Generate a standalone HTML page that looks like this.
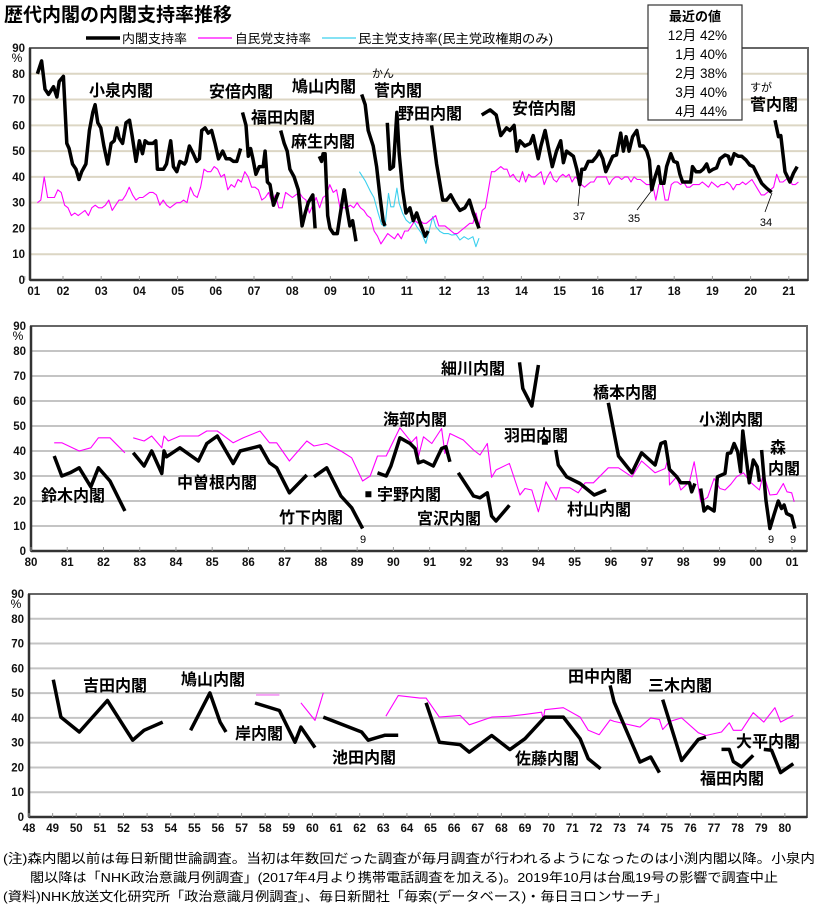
<!DOCTYPE html>
<html><head><meta charset="utf-8"><style>
html,body{margin:0;padding:0;background:#fff;}
svg{display:block;font-family:"Liberation Sans","Noto Sans CJK JP",sans-serif;}
.lbl{font-size:16px;font-weight:bold;fill:#000;}
.tk{font-size:11.5px;font-weight:bold;fill:#111;}
.leg{font-size:12.5px;fill:#000;}
.note{font-size:13px;fill:#000;}
</style></head><body>
<svg id="chart" width="829" height="914" viewBox="0 0 829 914">
<text x="4" y="21" style="font-size:19px;font-weight:bold">歴代内閣の内閣支持率推移</text>
<g>
<line x1="86" y1="38" x2="120" y2="38" stroke="#000" stroke-width="3.5"/>
<text class="leg" x="122" y="43" textLength="65" lengthAdjust="spacingAndGlyphs">内閣支持率</text>
<line x1="198" y1="38" x2="232" y2="38" stroke="#f0f" stroke-width="1.2"/>
<text class="leg" x="235" y="43" textLength="76" lengthAdjust="spacingAndGlyphs">自民党支持率</text>
<line x1="322" y1="38" x2="356" y2="38" stroke="#3cd0ee" stroke-width="1.2"/>
<text class="leg" x="358" y="43" textLength="195" lengthAdjust="spacingAndGlyphs">民主党支持率(民主党政権期のみ)</text>
</g>
<g id="p1"></g>
<g id="p2"></g>
<g id="p3"></g>
<g>
<rect x="648" y="5" width="94" height="115" fill="#fff" stroke="#333" stroke-width="1.2"/>
<text x="695" y="21" text-anchor="middle" style="font-size:13px;font-weight:bold">最近の値</text>
<text x="727" y="40" text-anchor="end" style="font-size:13.5px">12月 42%</text>
<text x="727" y="59" text-anchor="end" style="font-size:13.5px">1月 40%</text>
<text x="727" y="78" text-anchor="end" style="font-size:13.5px">2月 38%</text>
<text x="727" y="97" text-anchor="end" style="font-size:13.5px">3月 40%</text>
<text x="727" y="116" text-anchor="end" style="font-size:13.5px">4月 44%</text>
</g>
<g>
<text class="note" x="3" y="863" textLength="812" lengthAdjust="spacingAndGlyphs">(注)森内閣以前は毎日新聞世論調査。当初は年数回だった調査が毎月調査が行われるようになったのは小渕内閣以降。小泉内</text>
<text class="note" x="30" y="882" textLength="748" lengthAdjust="spacingAndGlyphs">閣以降は「NHK政治意識月例調査」(2017年4月より携帯電話調査を加える)。2019年10月は台風19号の影響で調査中止</text>
<text class="note" x="3" y="901" textLength="665" lengthAdjust="spacingAndGlyphs">(資料)NHK放送文化研究所「政治意識月例調査」、毎日新聞社「毎索(データベース)・毎日ヨロンサーチ」</text>
</g>
</svg>
<script>
// ---------- Panel 1 data (2001-2021) ----------
const koizumiT=[2001.33,2001.44,2001.53,2001.62,2001.75,2001.84,2001.90,2002.01,2002.10,2002.16,2002.25,2002.34,2002.42,2002.49,2002.60,2002.69,2002.78,2002.84,2002.91,2002.99,2003.07,2003.17,2003.26,2003.34,2003.41,2003.47,2003.56,2003.65,2003.74,2003.81,2003.91,2004.00,2004.08,2004.15,2004.23,2004.35,2004.43,2004.47,2004.63,2004.71,2004.82,2004.89,2004.98,2005.06,2005.18,2005.22,2005.31,2005.41,2005.50,2005.57,2005.63,2005.72,2005.80,2005.89,2005.98,2006.07,2006.18,2006.27,2006.37,2006.46,2006.55,2006.65];
const koizumiV=[80,85,74,72,75,71,77,79,53,51,45,43,39,42,45,58,65,68,61,59,52,45,53,54,59,55,53,61,62,56,46,54,49,54,53,53,54,43,43,45,54,44,42,46,45,46,52,49,46,47,58,59,57,58,53,47,50,47,47,46,46,51];
const abe1T=[2006.70,2006.79,2006.85,2006.91,2006.97,2007.05,2007.14,2007.24,2007.29,2007.35,2007.42,2007.51,2007.64];
const abe1V=[65,60,48,51,47,41,44,44,50,38,37,29,34];
const fukudaT=[2007.70,2007.79,2007.87,2007.94,2008.05,2008.16,2008.26,2008.34,2008.42,2008.54,2008.60];
const fukudaV=[58,53,50,43,40,35,21,26,30,33,20];
const asoT=[2008.71,2008.77,2008.81,2008.86,2008.93,2008.99,2009.08,2009.18,2009.25,2009.36,2009.43,2009.51,2009.58,2009.67];
const asoV=[48,46,49,49,25,20,18,18,25,35,28,21,23,15];
const hatoyamaT=[2009.82,2009.91,2009.99,2010.12,2010.21,2010.30,2010.38,2010.43];
const hatoyamaV=[72,68,58,52,44,32,23,21];
const kanT=[2010.49,2010.56,2010.65,2010.74,2010.80,2010.89,2010.98,2011.08,2011.17,2011.26,2011.35,2011.48,2011.56];
const kanV=[61,43,44,65,49,35,26,28,23,26,22,17,19];
const nodaT=[2011.65,2011.78,2011.94,2012.04,2012.15,2012.26,2012.39,2012.52,2012.64,2012.74,2012.89];
const nodaV=[60,45,31,31,33,30,27,28,31,26,20];
const abe2T=[2012.96,2013.18,2013.34,2013.46,2013.61,2013.70,2013.81,2013.88,2013.96,2014.09,2014.23,2014.31,2014.44,2014.51,2014.62,2014.70,2014.81,2014.92,2015.03,2015.10,2015.18,2015.27,2015.36,2015.45,2015.53,2015.58,2015.66,2015.75,2015.86,2015.97,2016.04,2016.13,2016.21,2016.30,2016.39,2016.49,2016.60,2016.67,2016.74,2016.82,2016.91,2017.02,2017.10,2017.19,2017.28,2017.35,2017.41,2017.50,2017.59,2017.65,2017.73,2017.80,2017.91,2017.99,2018.08,2018.15,2018.22,2018.33,2018.43,2018.48,2018.57,2018.68,2018.76,2018.85,2018.92,2019.02,2019.11,2019.20,2019.33,2019.42,2019.48,2019.57,2019.68,2019.77,2019.88,2019.98,2020.07,2020.17,2020.29,2020.42,2020.55];
const abe2V=[64,66,64,56,59,58,60,50,54,52,53,56,47,52,58,52,44,50,54,45.5,50,49,48,43,37,43,43,46,46,48,50,47,42,45,48,48.5,57,50,55.6,50,55.6,58,52,52,50,46.5,35,40,44,37.5,37.5,44,49,46,45.5,41,38,38,38,44,42,42,43,45,42,43,43.5,47,48.5,48,45,49,48,48,46.5,44.6,44,41,37.5,35.6,34];
const sugaT=[2020.64,2020.73,2020.79,2020.90,2021.03,2021.12,2021.22];
const sugaV=[62,55.6,56,42,38,41.4,44];
const ldpAStart=2001.33, ldpAEnd=2011.30;
const ldpAV=[30,31,40,32,32,32,35,34,29,28,25,26,25,26,27,25,28,29,28,28,29,31,27,29,31,31,33,36,33,31,32,32,33,34,34,33,29,31,29,28,29,30,30,31,30,36,33,32,36,43,42,42,44,43,40,41,35,37,36,39,38,42,40,36,36,35,31,32,34,30,33,28,28,34,33,32,33,34,32,31,26,29,32,28,32,33,37,34,35,28,28,28,29,28,30,28,27,25,24,19,17,14,16,18,17,16,18,16,19,19,21,23,22];
const ldpBStart=2011.35, ldpBEnd=2021.25;
const ldpBV=[23,22,22,23,24,25,21,21,21,20,19,18,18,19,20,21,22,22,26,21,27,28,35,42,42,43,44,43,43,40,41,39,38,42,38,41,40,40,41,42,37,40,42,39,38,40,41,40,41,38,40,39,37,36,37,38,38,40,40,40,40,37,39,40,40,39,40,40,38,40,39,39,38,37,37,37,31,37,38,31,31,37,38,38,37,38,36,36,37,37,37,38,37,36,38,37,36,37,37,38,37,35,37,37,38,37,38,39,37,35,33,33,34,35,36,41,38,38,39,40,37,37,38];
const dpjT=[2009.76,2009.91,2010.04,2010.14,2010.25,2010.34,2010.43,2010.52,2010.58,2010.66,2010.74,2010.80,2010.89,2010.98,2011.08,2011.17,2011.26,2011.39,2011.50,2011.59,2011.68,2011.76,2011.87,2011.97,2012.09,2012.18,2012.29,2012.39,2012.50,2012.61,2012.73,2012.81,2012.89];
const dpjV=[42,38.5,34.6,32,25.9,21.6,20.7,33.6,28.4,28.4,35.6,29.7,25.9,23.3,22,23.3,20.7,18,14.2,19.4,24.6,20.7,18.8,18,18,17.4,17.7,15.5,16.8,15.8,16.8,12.9,16.2];
const p1TickYears=[2002,2003,2004,2005,2006,2007,2008,2009,2010,2011,2012,2013,2014,2015,2016,2017,2018,2019,2020,2021];
const p1TickLabels=["02","03","04","05","06","07","08","09","10","11","12","13","14","15","16","17","18","19","20","21"];
const yTicks=[0,10,20,30,40,50,60,70,80,90];

// ---------- Panel 2 data (1980-2001) ----------
const suzukiT=[1980.64,1980.85,1981.08,1981.33,1981.65,1981.86,1982.18,1982.59];
const suzukiV=[38,30,31.3,33.3,25.7,33.3,28,16];
const nakasoneT=[1982.82,1983.12,1983.33,1983.61,1983.67,1983.74,1984.11,1984.62,1984.85,1985.14,1985.58,1985.77,1986.32,1986.58,1986.78,1987.13,1987.61];
const nakasoneV=[39.3,34,40,31,40,37.7,41.3,36,43,46,35,40,42,35.3,33.3,23.3,30.4];
const takeshitaT=[1987.81,1988.16,1988.55,1988.85,1989.15];
const takeshitaV=[29.7,33.3,22,17.3,9];
const unoT=[1989.31]; const unoV=[22.7];
const kaifuT=[1989.56,1989.80,1989.93,1990.18,1990.46,1990.60,1990.69,1990.83,1991.10,1991.33,1991.45,1991.56];
const kaifuV=[31.3,30,34,45.3,43,41,35.3,36,34,41,41.7,35.7];
const miyazawaT=[1991.79,1992.21,1992.39,1992.59,1992.71,1992.83,1993.20];
const miyazawaV=[31.3,22,21.3,23.3,14,12,18.3];
const hosokawaT=[1993.48,1993.57,1993.82,1994.00];
const hosokawaV=[75.5,65,58,74.4];
const hataT=[1994.18]; const hataV=[43.7];
const murayamaT=[1994.48,1994.55,1994.78,1995.15,1995.54,1995.87];
const murayamaV=[40.4,34.4,29.7,27,22.4,24.4];
const hashimotoT=[1995.93,1996.21,1996.58,1996.85,1997.22,1997.38,1997.50,1997.62,1997.82,1997.93,1998.17,1998.23,1998.32];
const hashimotoV=[59.3,38,31.3,39.3,34.4,43,43.7,32.7,29.7,27.3,27.3,23.7,27];
const obuchiT=[1998.48,1998.57,1998.67,1998.85,1998.94,1999.15,1999.22,1999.31,1999.40,1999.50,1999.58,1999.64,1999.73,1999.82,1999.93,2000.04,2000.10];
const obuchiV=[25,16,17.7,16,29.7,31,39,39.3,43,39.7,31.7,48,37.7,27.3,36.4,33.7,27.7];
const moriT=[2000.16,2000.28,2000.39,2000.50,2000.62,2000.71,2000.78,2000.85,2000.99,2001.08];
const moriV=[40.4,20.4,9,14.4,20,17,18.4,15,14,9];
const ldp2AT=[1980.64,1980.85,1981.33,1981.65,1981.86,1982.18,1982.59];
const ldp2AV=[43.3,43.3,40,41.3,45.3,45.3,39.3];
const ldp2BT=[1982.82,1983.12,1983.33,1983.61,1983.67,1983.79,1984.11,1984.62,1984.85,1985.14,1985.58,1985.86,1986.32,1986.58,1986.78,1987.13,1987.61,1987.81,1988.16,1988.55,1988.85,1989.15,1989.36,1989.56,1989.80,1990.18,1990.50,1990.64,1990.69,1990.83,1991.06,1991.33,1991.42,1991.56,1991.93,1992.21,1992.39,1992.59,1992.71,1992.83,1993.20,1993.49,1993.63,1993.82,1994.00,1994.21,1994.49,1994.60,1994.87,1995.10,1995.29,1995.52,1995.93,1996.21,1996.58,1996.85,1997.22,1997.50,1997.59,1997.62,1997.82,1997.93,1998.17,1998.30,1998.48,1998.67,1998.85,1999.01,1999.15,1999.31,1999.47,1999.66,1999.84,2000.10,2000.21,2000.39,2000.58,2000.76,2000.86,2000.99,2001.06];
const ldp2BV=[45.3,44,46,41.3,46,44,46,46,48,48,43.3,45.3,48,43.3,43.3,36,44,42,43,40,37.3,28,30,38,38,49.3,43.5,45.7,37.7,45.7,43,49,39,47,44.4,40.4,38.4,43,29.5,32.4,35,22.4,25,24.4,15.7,27.7,20.4,25.3,25.3,23.3,27.3,27.3,33.3,33.3,29.7,36,31.3,33,37.7,26.4,29.7,24.4,27.7,35.7,19.7,21.5,29,25,24.4,26.7,29.7,31.3,27.7,24.4,31,22.4,22.7,27,23.7,23.3,19.7];
const p2TickLabels=["80","81","82","83","84","85","86","87","88","89","90","91","92","93","94","95","96","97","98","99","00","01"];

// ---------- Panel 3 data (1948-1980) ----------
const yoshidaT=[1949.03,1949.35,1950.13,1951.32,1952.39,1952.87,1953.66];
const yoshidaV=[55.4,40.3,34.3,47,31,35,38.3];
const hatoyama2T=[1954.84,1955.66,1956.09,1956.34];
const hatoyama2V=[35,50.1,38.3,34.3];
const kishiT=[1957.57,1958.60,1959.26,1959.51,1960.11];
const kishiV=[46,43,30.2,36.3,28];
const ikedaT=[1960.46,1962.08,1962.36,1963.07,1963.63];
const ikedaV=[40.3,34.3,31,33,33];
const satoT=[1964.81,1965.37,1966.25,1966.64,1967.59,1968.36,1969.00,1969.77,1969.84,1970.62,1971.33,1971.68,1972.20];
const satoV=[46.1,30.2,29.2,26.2,32.9,27.2,31.6,39.6,40.3,40.3,31.6,23.5,19.5];
const tanakaT=[1972.60,1972.77,1973.87,1974.32,1974.69];
const tanakaV=[53.1,46.4,22.2,24.2,17.9];
const mikiT=[1974.83,1975.63,1976.34,1976.66];
const mikiV=[47.4,22.8,31.3,32.3];
const fukuda2T=[1977.32,1977.65,1977.82,1978.17,1978.66];
const fukuda2V=[27.3,27.3,22.4,20.2,24.9];
const ohiraT=[1979.11,1979.44,1979.82,1980.36];
const ohiraV=[27.3,26.9,17.9,21.5];
const ldp3AT=[1957.61,1958.60]; const ldp3AV=[49.3,49.3];
const ldp3BT=[1959.51,1960.11,1960.46]; const ldp3BV=[46.1,39,50.1];
const ldp3CT=[1963.11,1963.63,1964.55,1964.81,1965.37,1966.25,1966.64,1967.59,1968.36,1969.00,1969.70,1969.77,1969.84,1970.62,1971.33,1971.68,1972.14,1972.60,1972.77,1973.87,1974.32,1974.69,1974.83,1975.14,1975.63,1976.34,1976.66,1977.32,1977.65,1977.82,1978.17,1978.66,1979.11,1979.58,1979.82,1980.36];
const ldp3CV=[40.7,49,48,48,40.3,41,37.2,40.3,40.7,41.4,42.3,39.4,43.3,44.1,40.3,35,33.2,39.2,38.6,36.3,40,39.4,35.3,38.6,40,34,32.9,34.3,38,35,35,42.1,38.3,44.1,38.3,41];
const p3TickLabels=["48","49","50","51","52","53","54","55","56","57","58","59","60","61","62","63","64","65","66","67","68","69","70","71","72","73","74","75","76","77","78","79","80"];

const NS="http://www.w3.org/2000/svg";
function mk(parent,tag,attrs){const e=document.createElementNS(NS,tag);for(const k in attrs)e.setAttribute(k,attrs[k]);parent.appendChild(e);return e;}

function makePanel(g,P){
  const x=t=>P.x0+(t-P.t0)*P.pxYear;
  const y=v=>P.yBot-v*(P.yBot-P.yTop)/90;
  yTicks.forEach(v=>{
    if(v>0&&v<90){
      const l=mk(g,'line',{x1:P.left,x2:P.right,y1:y(v),y2:y(v),stroke:P.grid,'stroke-width':2});
      
      
    }
    const tx=mk(g,'text',{x:P.left-5,y:y(v)+4,'text-anchor':'end',class:'tk'});
    tx.textContent=String(v);
    
    
  });
  const pc=mk(g,'text',{x:P.left-13,y:y(90)+14,'text-anchor':'middle',style:'font-size:12px'});
  pc.textContent='%';
  
  
  const fr=mk(g,'rect',{x:P.left,y:P.yTop,width:P.right-P.left,height:P.yBot-P.yTop,fill:'none',stroke:'#666','stroke-width':2});
  
  
  mk(g,'line',{x1:P.left,x2:P.left,y1:P.yTop,y2:P.yBot,stroke:'#333','stroke-width':2.5});
  mk(g,'line',{x1:P.left,x2:P.right,y1:P.yBot,y2:P.yBot,stroke:'#333','stroke-width':2.5});
  P.ticks.forEach((t,i)=>{
    const xx=x(t);
    mk(g,'line',{x1:xx,x2:xx,y1:P.yBot,y2:P.yBot-4,stroke:'#999','stroke-width':1});
    const lx=(i===0&&P.firstShift)?xx+P.firstShift:xx;
    const tx=mk(g,'text',{x:lx,y:P.yBot+15,'text-anchor':'middle',class:'tk'});
    tx.textContent=P.tickLabels[i];
    
    
  });
  return {x,y};
}
function series(g,A,T,V,color,w,name){
  if(T.length===1){
    const r=mk(g,'rect',{x:A.x(T[0])-3,y:A.y(V[0])-3,width:6,height:6,fill:color});
    
    
    return;
  }
  const pts=T.map((t,i)=>A.x(t).toFixed(1)+','+A.y(V[i]).toFixed(1)).join(' ');
  const p=mk(g,'polyline',{points:pts,fill:'none',stroke:color,'stroke-width':w,'stroke-linejoin':'round','stroke-linecap':'butt'});
  
  
}
function evenSeries(g,A,start,end,V,color,w,name){
  const T=V.map((_,i)=>start+(end-start)*i/(V.length-1));
  series(g,A,T,V,color,w,name);
}
function label(g,x,y,txt,name,size){
  const t=mk(g,'text',{x:x,y:y,class:'lbl'});
  if(size)t.setAttribute('style','font-size:'+size+'px');
  t.textContent=txt;
  
  
}
function leader(g,x1,y1,x2,y2){mk(g,'line',{x1:x1,y1:y1,x2:x2,y2:y2,stroke:'#000','stroke-width':0.8});}
function small(g,x,y,txt,name){
  const t=mk(g,'text',{x:x,y:y,'text-anchor':'middle',style:'font-size:11px'});
  t.textContent=txt;
  
  
}

// Panel 1
const g1=document.getElementById('p1');
const A1=makePanel(g1,{x0:63,t0:2002,pxYear:38.2,yTop:48,yBot:280,left:30,right:808,grid:'#dcd6c4',ticks:[2001].concat(p1TickYears),tickLabels:["01"].concat(p1TickLabels),firstShift:9});
series(g1,A1,dpjT,dpjV,'#3cd0ee',1.1,'dpj-support-line');
evenSeries(g1,A1,ldpAStart,ldpAEnd,ldpAV,'#f0f',1.1,'ldp-support-line-a');
evenSeries(g1,A1,ldpBStart,ldpBEnd,ldpBV,'#f0f',1.1,'ldp-support-line-b');
[[koizumiT,koizumiV,'koizumi'],[abe1T,abe1V,'abe1'],[fukudaT,fukudaV,'fukuda'],[asoT,asoV,'aso'],[hatoyamaT,hatoyamaV,'hatoyama'],[kanT,kanV,'kan'],[nodaT,nodaV,'noda'],[abe2T,abe2V,'abe2'],[sugaT,sugaV,'suga']].forEach(s=>series(g1,A1,s[0],s[1],'#000',3.5,'cabinet-line-'+s[2]));
label(g1,89,96,'小泉内閣','label-koizumi');
label(g1,209,97,'安倍内閣','label-abe1');
label(g1,292,92,'鳩山内閣','label-hatoyama');
small(g1,383,77,'かん','label-kan-ruby');
label(g1,374,96,'菅内閣','label-kan');
label(g1,251,123,'福田内閣','label-fukuda');
label(g1,291,147,'麻生内閣','label-aso');
label(g1,398,119,'野田内閣','label-noda');
label(g1,512,114,'安倍内閣','label-abe2');
small(g1,761,91,'すが','label-suga-ruby');
label(g1,750,110,'菅内閣','label-suga');
leader(g1,580,186,578,206);small(g1,579,220,'37','annot-37');
leader(g1,652,190,637,210);small(g1,634,222,'35','annot-35');
leader(g1,772,193,765,212);small(g1,766,226,'34','annot-34');

// Panel 2
const g2=document.getElementById('p2');
const t2=p2TickLabels.map((_,i)=>1980+i);
const A2=makePanel(g2,{x0:31,t0:1980,pxYear:36.24,yTop:326,yBot:551,left:31,right:807,grid:'#c4c4c4',ticks:t2,tickLabels:p2TickLabels});
series(g2,A2,ldp2AT,ldp2AV,'#f0f',1.1,'ldp-support-line-80a');
series(g2,A2,ldp2BT,ldp2BV,'#f0f',1.1,'ldp-support-line-80b');
[[suzukiT,suzukiV,'suzuki'],[nakasoneT,nakasoneV,'nakasone'],[takeshitaT,takeshitaV,'takeshita'],[unoT,unoV,'uno'],[kaifuT,kaifuV,'kaifu'],[miyazawaT,miyazawaV,'miyazawa'],[hosokawaT,hosokawaV,'hosokawa'],[hataT,hataV,'hata'],[murayamaT,murayamaV,'murayama'],[hashimotoT,hashimotoV,'hashimoto'],[obuchiT,obuchiV,'obuchi'],[moriT,moriV,'mori']].forEach(s=>series(g2,A2,s[0],s[1],'#000',3.5,'cabinet-line-'+s[2]));
label(g2,41,501,'鈴木内閣','label-suzuki');
label(g2,177,488,'中曽根内閣','label-nakasone');
label(g2,279,523,'竹下内閣','label-takeshita');
label(g2,377,500,'宇野内閣','label-uno');
label(g2,383,425,'海部内閣','label-kaifu');
label(g2,441,374,'細川内閣','label-hosokawa');
label(g2,504,441,'羽田内閣','label-hata');
label(g2,417,524,'宮沢内閣','label-miyazawa');
label(g2,567,515,'村山内閣','label-murayama');
label(g2,593,398,'橋本内閣','label-hashimoto');
label(g2,699,425,'小渕内閣','label-obuchi');
label(g2,770,453,'森','label-mori-1');
label(g2,768,474,'内閣','label-mori-2');
small(g2,363,543,'9','annot-9-takeshita');
small(g2,771,543,'9','annot-9-mori-a');
small(g2,793,543,'9','annot-9-mori-b');

// Panel 3
const g3=document.getElementById('p3');
const t3=p3TickLabels.map((_,i)=>1948+i);
const A3=makePanel(g3,{x0:29,t0:1948,pxYear:23.62,yTop:594,yBot:817,left:29,right:807,grid:'#c4c4c4',ticks:t3,tickLabels:p3TickLabels});
series(g3,A3,ldp3AT,ldp3AV,'#f6a0f6',2.2,'ldp-support-line-kishi');
series(g3,A3,ldp3BT,ldp3BV,'#f0f',1.1,'ldp-support-line-59');
series(g3,A3,ldp3CT,ldp3CV,'#f0f',1.1,'ldp-support-line-63');
[[yoshidaT,yoshidaV,'yoshida'],[hatoyama2T,hatoyama2V,'hatoyama-ichiro'],[kishiT,kishiV,'kishi'],[ikedaT,ikedaV,'ikeda'],[satoT,satoV,'sato'],[tanakaT,tanakaV,'tanaka'],[mikiT,mikiV,'miki'],[fukuda2T,fukuda2V,'fukuda-takeo'],[ohiraT,ohiraV,'ohira']].forEach(s=>series(g3,A3,s[0],s[1],'#000',3.5,'cabinet-line-'+s[2]));
label(g3,83,691,'吉田内閣','label-yoshida');
label(g3,181,685,'鳩山内閣','label-hatoyama-ichiro');
label(g3,235,739,'岸内閣','label-kishi');
label(g3,332,763,'池田内閣','label-ikeda');
label(g3,515,764,'佐藤内閣','label-sato');
label(g3,568,682,'田中内閣','label-tanaka');
label(g3,648,691,'三木内閣','label-miki');
label(g3,736,747,'大平内閣','label-ohira');
label(g3,700,784,'福田内閣','label-fukuda-takeo');
</script>
</body></html>
